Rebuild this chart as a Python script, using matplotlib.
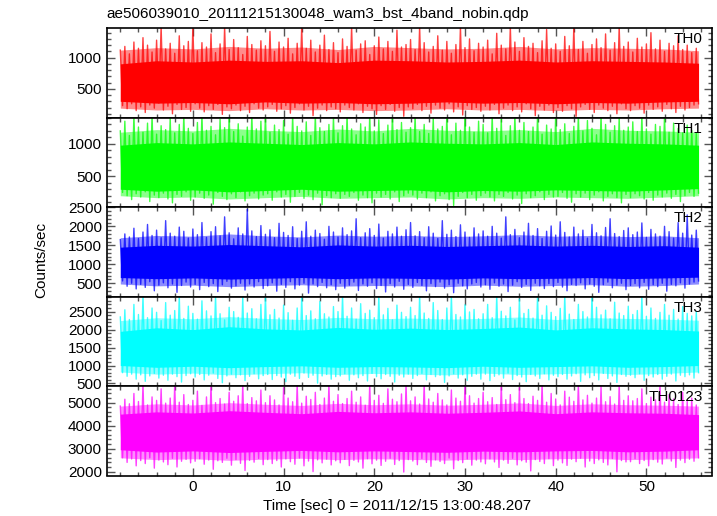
import matplotlib
matplotlib.use("Agg")
import matplotlib.pyplot as plt
import numpy as np
from matplotlib.ticker import MultipleLocator

plt.rcParams['font.family'] = ['Liberation Sans', 'DejaVu Sans']

title = "ae506039010_20111215130048_wam3_bst_4band_nobin.qdp"
xlabel = "Time [sec] 0 = 2011/12/15 13:00:48.207"
ylabel = "Counts/sec"
names = ["TH0", "TH1", "TH2", "TH3", "TH0123"]
colors_ = ["#ff0000", "#00ff00", "#0000ff", "#00ffff", "#ff00ff"]

# spike envelope read every 0.5 s (upper spike at t, lower spike at t+0.25)
t = np.arange(-8, 56, 0.5)
# solid core and light fringe read every 4 s
core_t = [-8, -4, 0, 4, 8, 12, 16, 20, 24, 28, 32, 36, 40, 44, 48, 52, 55.75]

th0_top = [1120, 1180, 1060, 1250, 1150, 1320, 1200, 1090, 1280, 1500, 1140, 1230, 1070, 1350, 1190, 1260,
           1500, 1110, 1240, 1170, 1380, 1080, 1220, 1500, 1130, 1290, 1160, 1050, 1340, 1210, 1120, 1270,
           1190, 1420, 1100, 1250, 1170, 1310, 1060, 1230, 1500, 1150, 1280, 1090, 1200, 1360, 1130, 1240,
           1080, 1300, 1180, 1500, 1120, 1220, 1270, 1050, 1190, 1330, 1140, 1260, 1100, 1440, 1170, 1210,
           1290, 1130, 1500, 1240, 1090, 1180, 1350, 1120, 1260, 1070, 1210, 1500, 1160, 1300, 1110, 1230,
           1170, 1280, 1060, 1390, 1200, 1140, 1500, 1250, 1100, 1320, 1180, 1230, 1080, 1270, 1450, 1150,
           1220, 1100, 1340, 1190, 1500, 1130, 1260, 1070, 1210, 1300, 1160, 1380, 1120, 1240, 1500, 1180,
           1250, 1090, 1310, 1170, 1220, 1400, 1140, 1280, 1100, 1230, 1190, 1350, 1130, 1200, 1080, 1150]
th0_bot = [230, 180, 260, 150, 210, 120, 240, 190, 270, 160, 220, 100, 250, 170, 200, 140,
           260, 190, 130, 230, 170, 250, 90, 210, 180, 240, 150, 220, 120, 260, 190, 160,
           210, 250, 140, 180, 230, 110, 200, 260, 160, 220, 70, 190, 240, 150, 210, 180,
           130, 240, 200, 160, 260, 120, 220, 180, 90, 230, 170, 250, 140, 200, 60, 210,
           180, 250, 150, 220, 110, 240, 190, 160, 260, 130, 210, 80, 230, 170, 200, 140,
           220, 160, 250, 100, 190, 240, 150, 210, 130, 260, 180, 70, 220, 160, 240, 120,
           200, 140, 230, 180, 60, 210, 250, 170, 120, 240, 190, 150, 220, 100, 260, 180,
           150, 230, 190, 110, 240, 170, 210, 140, 250, 180, 120, 220, 160, 200, 240, 260]
th0_core_hi = [900, 950, 930, 960, 940, 950, 920, 960, 950, 930, 940, 960, 930, 950, 940, 930, 910]
th0_core_lo = [300, 270, 280, 260, 290, 270, 280, 260, 270, 290, 270, 280, 260, 280, 270, 290, 300]
th0_fringe_hi = [1120, 1160, 1140, 1180, 1150, 1170, 1130, 1180, 1160, 1140, 1150, 1180, 1140, 1160, 1150, 1140, 1110]
th0_fringe_lo = [190, 160, 170, 150, 180, 160, 170, 150, 160, 180, 160, 170, 150, 170, 160, 180, 190]

th1_top = [1200, 1350, 1130, 1450, 1260, 1180, 1320, 1450, 1150, 1280, 1220, 1400, 1170, 1300, 1450, 1240,
           1160, 1330, 1450, 1210, 1270, 1140, 1380, 1250, 1450, 1190, 1310, 1120, 1260, 1450, 1230, 1350,
           1450, 1180, 1290, 1220, 1360, 1150, 1450, 1270, 1200, 1340, 1130, 1450, 1250, 1190, 1300, 1420,
           1170, 1280, 1450, 1230, 1140, 1310, 1260, 1450, 1200, 1370, 1160, 1290, 1450, 1220, 1330, 1180,
           1250, 1450, 1190, 1300, 1160, 1400, 1230, 1270, 1450, 1140, 1320, 1210, 1450, 1260, 1180, 1350,
           1300, 1170, 1450, 1240, 1380, 1130, 1280, 1450, 1210, 1330, 1190, 1260, 1450, 1150, 1290, 1230,
           1450, 1220, 1310, 1160, 1270, 1450, 1200, 1360, 1240, 1140, 1450, 1300, 1180, 1280, 1410, 1210,
           1260, 1340, 1190, 1450, 1230, 1150, 1300, 1270, 1450, 1180, 1320, 1240, 1170, 1290, 1210, 1160]
th1_bot = [250, 200, 140, 230, 180, 260, 110, 210, 170, 240, 150, 90, 220, 190, 260, 130,
           180, 240, 160, 210, 70, 250, 190, 140, 230, 170, 260, 120, 200, 240, 150, 210,
           230, 130, 260, 180, 220, 100, 190, 250, 160, 210, 140, 240, 60, 200, 170, 230,
           160, 220, 190, 250, 130, 210, 170, 90, 240, 180, 220, 150, 260, 110, 200, 240,
           210, 150, 240, 170, 260, 120, 200, 230, 140, 50, 190, 250, 170, 220, 130, 200,
           240, 180, 120, 220, 190, 250, 150, 210, 80, 230, 170, 200, 260, 140, 220, 180,
           190, 250, 160, 100, 230, 180, 240, 140, 210, 260, 120, 190, 230, 170, 90, 220,
           170, 230, 200, 150, 250, 130, 210, 180, 240, 160, 220, 110, 200, 250, 190, 240]
th1_core_hi = [980, 1020, 1000, 1030, 1010, 990, 1020, 1000, 1030, 1010, 1000, 1020, 990, 1030, 1010, 1000, 980]
th1_core_lo = [300, 270, 290, 260, 280, 300, 270, 280, 290, 260, 280, 270, 290, 280, 270, 290, 310]
th1_fringe_hi = [1180, 1220, 1200, 1240, 1210, 1190, 1230, 1200, 1240, 1210, 1200, 1220, 1190, 1240, 1210, 1200, 1180]
th1_fringe_lo = [200, 170, 180, 150, 170, 190, 160, 170, 180, 150, 170, 160, 180, 170, 160, 180, 200]

th2_top = [1650, 1800, 1720, 1950, 1680, 1850, 2050, 1760, 1900, 1700, 2150, 1820, 1740, 1980, 1870, 1690,
           1930, 1780, 2100, 1710, 1860, 1990, 1750, 2250, 1830, 1670, 1960, 1800, 2450, 1880, 1730, 2020,
           1790, 1910, 1700, 2080, 1840, 1760, 1990, 1680, 1870, 2120, 1740, 1900, 1810, 1660, 2000, 1850,
           1720, 1960, 1780, 1880, 2200, 1700, 1830, 1940, 1760, 2060, 1690, 1870, 1800, 1980, 1740, 1910,
           2100, 1750, 1860, 1700, 1990, 1820, 1680, 2150, 1790, 1900, 1730, 2040, 1850, 1710, 1960, 1800,
           1880, 1740, 2000, 1820, 1690, 2250, 1780, 1920, 1700, 1850, 2080, 1760, 1940, 1680, 1870, 2010,
           1770, 2120, 1840, 1720, 1980, 1800, 1900, 1690, 2050, 1830, 1750, 1970, 2200, 1810, 1730, 1890,
           1960, 1780, 1850, 2090, 1710, 1920, 1800, 1740, 2000, 1860, 1690, 2100, 1820, 2300, 1770, 1900]
th2_bot = [560, 420, 500, 350, 470, 390, 540, 300, 450, 510, 380, 480, 260, 440, 530, 400,
           470, 330, 520, 410, 490, 280, 460, 550, 370, 430, 500, 320, 480, 400, 540, 360,
           430, 510, 290, 470, 390, 540, 350, 450, 500, 240, 480, 410, 520, 380, 460, 330,
           500, 370, 450, 530, 310, 480, 420, 510, 360, 440, 270, 490, 400, 550, 340, 470,
           390, 520, 440, 300, 490, 410, 530, 370, 460, 250, 500, 430, 350, 480, 520, 400,
           460, 340, 510, 420, 480, 280, 450, 540, 390, 470, 310, 500, 430, 360, 490, 410,
           520, 400, 300, 470, 440, 510, 350, 480, 420, 260, 460, 530, 380, 450, 500, 330,
           440, 490, 380, 520, 340, 460, 410, 500, 290, 470, 430, 510, 370, 480, 530, 560]
th2_core_hi = [1450, 1500, 1480, 1520, 1490, 1460, 1510, 1480, 1500, 1470, 1490, 1510, 1480, 1500, 1470, 1490, 1450]
th2_core_lo = [650, 620, 640, 610, 630, 650, 620, 640, 630, 610, 640, 620, 630, 650, 620, 640, 660]
th2_fringe_hi = [1700, 1760, 1740, 1800, 1750, 1720, 1770, 1740, 1760, 1730, 1750, 1780, 1740, 1760, 1730, 1750, 1700]
th2_fringe_lo = [480, 430, 450, 410, 440, 460, 420, 440, 430, 410, 450, 420, 440, 460, 420, 440, 480]

th3_top = [2350, 2550, 2280, 2700, 2420, 2950, 2330, 2600, 2480, 2250, 2750, 2400, 2530, 2950, 2310, 2650,
           2450, 2290, 2800, 2520, 2380, 2950, 2440, 2270, 2620, 2500, 2340, 2900, 2460, 2580, 2300, 2700,
           2950, 2410, 2560, 2320, 2680, 2470, 2260, 2600, 2950, 2390, 2520, 2300, 2780, 2440, 2350, 2640,
           2500, 2950, 2370, 2600, 2290, 2720, 2450, 2540, 2330, 2950, 2410, 2590, 2270, 2680, 2480, 2360,
           2620, 2390, 2950, 2460, 2310, 2750, 2530, 2280, 2600, 2950, 2420, 2350, 2690, 2490, 2560, 2300,
           2440, 2700, 2330, 2950, 2510, 2380, 2620, 2270, 2850, 2450, 2560, 2320, 2950, 2400, 2660, 2480,
           2360, 2590, 2950, 2430, 2280, 2700, 2500, 2350, 2950, 2620, 2410, 2540, 2300, 2760, 2460, 2390,
           2650, 2420, 2530, 2950, 2370, 2600, 2310, 2480, 2700, 2400, 2560, 2290, 2640, 2450, 2380, 2500]
th3_bot = [800, 700, 760, 620, 740, 560, 710, 780, 650, 730, 590, 760, 690, 540, 720, 770,
           680, 750, 600, 730, 790, 640, 520, 710, 760, 660, 740, 580, 700, 770, 630, 720,
           750, 610, 720, 680, 550, 760, 700, 640, 790, 670, 730, 510, 710, 750, 620, 690,
           710, 770, 590, 740, 660, 720, 570, 780, 690, 630, 750, 700, 540, 730, 680, 760,
           640, 720, 780, 600, 750, 690, 730, 530, 710, 770, 650, 740, 590, 700, 760, 620,
           760, 580, 700, 740, 650, 790, 610, 720, 680, 550, 750, 710, 640, 770, 600, 730,
           690, 750, 620, 710, 770, 560, 740, 660, 720, 600, 780, 640, 710, 530, 750, 700,
           730, 660, 770, 590, 720, 680, 750, 620, 700, 760, 570, 730, 690, 740, 650, 800]
th3_core_hi = [1950, 2050, 2000, 2080, 2020, 1990, 2060, 2010, 2040, 2000, 2030, 2070, 1990, 2050, 2020, 2000, 1960]
th3_core_lo = [1000, 950, 980, 940, 970, 990, 950, 970, 960, 940, 980, 950, 970, 990, 950, 970, 1000]
th3_fringe_hi = [2250, 2330, 2300, 2360, 2310, 2280, 2340, 2300, 2320, 2290, 2310, 2350, 2280, 2330, 2310, 2290, 2260]
th3_fringe_lo = [820, 760, 790, 740, 770, 800, 750, 780, 760, 740, 790, 750, 770, 800, 750, 780, 820]

th0123_top = [4850, 5150, 4950, 5400, 5050, 5800, 4900, 5250, 5100, 5600, 4980, 5200, 5800, 5020, 5350, 4920,
              5100, 5500, 4880, 5250, 5800, 5000, 5180, 4940, 5450, 5060, 5300, 5800, 4960, 5220, 5080, 5550,
              5000, 5300, 5120, 4900, 5650, 5200, 5040, 5800, 4980, 5280, 5140, 5450, 4920, 5200, 5800, 5060,
              5350, 4960, 5180, 5500, 5020, 5250, 4890, 5800, 5100, 5320, 4970, 5600, 5150, 5040, 5380, 5800,
              5080, 5250, 4940, 5800, 5160, 5020, 5400, 5120, 4900, 5550, 5200, 5060, 5800, 5300, 4980, 5180,
              5450, 5040, 5220, 4920, 5800, 5130, 5350, 5000, 5650, 5180, 4960, 5280, 5100, 5800, 5020, 5400,
              5160, 4900, 5500, 5240, 5060, 5800, 5120, 5320, 4980, 5200, 5700, 5040, 5260, 4940, 5800, 5100,
              5300, 5080, 5180, 5600, 4960, 5240, 5120, 5800, 5020, 5350, 5160, 4920, 5450, 5060, 5200, 4900]
th0123_bot = [2600, 2400, 2550, 2250, 2480, 2350, 2600, 2150, 2500, 2420, 2300, 2580, 2200, 2450, 2530, 2380,
              2450, 2560, 2320, 2500, 2100, 2470, 2400, 2580, 2280, 2520, 2360, 2050, 2490, 2410, 2570, 2300,
              2520, 2350, 2480, 2200, 2550, 2430, 2320, 2590, 2250, 2460, 2000, 2510, 2380, 2540, 2290, 2470,
              2380, 2530, 2260, 2490, 2420, 2150, 2560, 2340, 2500, 2270, 2450, 2580, 2310, 2480, 1980, 2520,
              2460, 2300, 2570, 2400, 2230, 2510, 2440, 2350, 2590, 2120, 2480, 2390, 2550, 2280, 2500, 2420,
              2340, 2550, 2420, 2180, 2500, 2360, 2580, 2290, 2470, 2410, 2030, 2520, 2440, 2350, 2560, 2260,
              2500, 2380, 2270, 2540, 2430, 2580, 2200, 2460, 2350, 2510, 2400, 2290, 2570, 1990, 2480, 2420,
              2430, 2560, 2350, 2480, 2250, 2520, 2410, 2330, 2590, 2460, 2180, 2500, 2390, 2540, 2450, 2600]
th0123_core_hi = [4500, 4600, 4550, 4650, 4580, 4520, 4620, 4560, 4600, 4540, 4580, 4640, 4520, 4600, 4560, 4540, 4480]
th0123_core_lo = [2950, 2850, 2900, 2830, 2880, 2920, 2860, 2900, 2870, 2840, 2890, 2860, 2900, 2920, 2860, 2890, 2950]
th0123_fringe_hi = [4850, 4950, 4900, 5000, 4930, 4880, 4970, 4910, 4950, 4890, 4930, 4990, 4880, 4950, 4910, 4890, 4850]
th0123_fringe_lo = [2600, 2520, 2560, 2490, 2540, 2580, 2520, 2560, 2530, 2500, 2550, 2520, 2560, 2580, 2520, 2550, 2600]

tops = [th0_top, th1_top, th2_top, th3_top, th0123_top]
bots = [th0_bot, th1_bot, th2_bot, th3_bot, th0123_bot]
core_his = [th0_core_hi, th1_core_hi, th2_core_hi, th3_core_hi, th0123_core_hi]
core_los = [th0_core_lo, th1_core_lo, th2_core_lo, th3_core_lo, th0123_core_lo]
fringe_his = [th0_fringe_hi, th1_fringe_hi, th2_fringe_hi, th3_fringe_hi, th0123_fringe_hi]
fringe_los = [th0_fringe_lo, th1_fringe_lo, th2_fringe_lo, th3_fringe_lo, th0123_fringe_lo]

ylims = [(40, 1475), (26, 1407), (150, 2510), (430, 2920), (1830, 5725)]
yticks = [[500, 1000], [500, 1000], [500, 1000, 1500, 2000, 2500],
          [500, 1000, 1500, 2000, 2500], [2000, 3000, 4000, 5000]]
yminor = [100, 100, 100, 100, 200]

fig = plt.figure(figsize=(7.17, 5.16), dpi=100)
W, H = 717.0, 516.0
left, right = 106.7, 711.7
edges = [28, 117.5, 207, 296.5, 386, 475.5]

for i in range(5):
    ax = fig.add_axes([left / W, 1 - edges[i + 1] / H, (right - left) / W, (edges[i + 1] - edges[i]) / H])
    c = colors_[i]
    ax.fill_between(core_t, fringe_los[i], fringe_his[i], color=c, alpha=0.45, lw=0)
    ax.fill_between(core_t, core_los[i], core_his[i], color=c, lw=0)
    zx = np.empty(2 * len(t))
    zy = np.empty(2 * len(t))
    zx[0::2] = t
    zx[1::2] = t + 0.25
    zy[0::2] = tops[i]
    zy[1::2] = bots[i]
    ax.plot(zx, zy, color=c, lw=1.0, alpha=0.75)
    ax.set_xlim(-9.5, 57.2)
    ax.set_ylim(*ylims[i])
    ax.set_yticks(yticks[i])
    ax.yaxis.set_minor_locator(MultipleLocator(yminor[i]))
    ax.xaxis.set_major_locator(MultipleLocator(10))
    ax.xaxis.set_minor_locator(MultipleLocator(2))
    ax.tick_params(which='both', direction='in', top=True, right=True, labelsize=11, colors='black')
    ax.tick_params(which='major', length=6, width=1.0, color='#555555')
    ax.tick_params(which='minor', length=3, width=1.0, color='#555555')
    for s in ax.spines.values():
        s.set_linewidth(1.2)
    if i < 4:
        ax.tick_params(labelbottom=False)
    ax.text(0.985, 0.955, names[i], transform=ax.transAxes, ha='right', va='top', fontsize=11)

fig.text(left / W, 1 - 14 / H, title, ha='left', va='center', fontsize=11)
fig.text(0.058, 0.496, ylabel, rotation=90, ha='center', va='center', fontsize=11)
fig.text(0.554, 0.019, xlabel, ha='center', va='center', fontsize=11)

fig.savefig("out.png", dpi=100)
